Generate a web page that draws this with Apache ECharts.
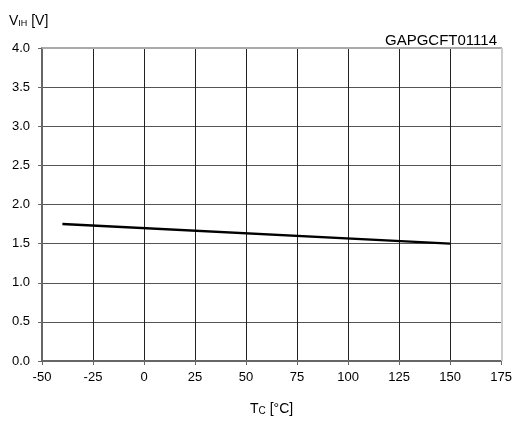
<!DOCTYPE html>
<html>
<head>
<meta charset="utf-8">
<script src="https://cdn.jsdelivr.net/npm/echarts@6/dist/echarts.min.js"></script>
<style>
  html, body { margin: 0; padding: 0; background: #fff; }
  #chart { width: 515px; height: 421px; }
</style>
</head>
<body>
<div id="chart"></div>
<script>
// Input high-level threshold voltage versus case temperature
const caseTemp = [-40, 150];
const vih = [1.75, 1.50];
const xTicks = [-50, -25, 0, 25, 50, 75, 100, 125, 150, 175];
const yTicks = [0, 0.5, 1, 1.5, 2, 2.5, 3, 3.5, 4];
const figureCode = 'GAPGCFT01114';

const font = 'Liberation Sans, Arial, sans-serif';
const chart = echarts.init(document.getElementById('chart'), null, { renderer: 'canvas' });

chart.setOption({
  animation: false,
  backgroundColor: '#fff',
  grid: { left: 42, right: 13, top: 48, bottom: 60, containLabel: false },
  xAxis: {
    type: 'value',
    min: xTicks[0],
    max: xTicks[xTicks.length - 1],
    interval: 25,
    axisLine: { show: true, onZero: false, lineStyle: { color: '#666', width: 2 } },
    axisTick: { show: true, length: 4, lineStyle: { color: '#666' } },
    axisLabel: { color: '#000', fontFamily: font, fontSize: 13, margin: 10 },
    splitLine: { show: true, lineStyle: { color: '#222', width: 1 } }
  },
  yAxis: {
    type: 'value',
    min: yTicks[0],
    max: yTicks[yTicks.length - 1],
    interval: 0.5,
    axisLine: { show: true, onZero: false, lineStyle: { color: '#666', width: 2 } },
    axisTick: { show: true, length: 4, lineStyle: { color: '#666' } },
    axisLabel: { color: '#000', fontFamily: font, fontSize: 13, margin: 12,
                 formatter: v => v.toFixed(1) },
    splitLine: { show: true, lineStyle: { color: '#555', width: 1 } }
  },
  graphic: [
    { type: 'line', shape: { x1: 42, y1: 48, x2: 502, y2: 48 }, silent: true, z: 10,
      style: { stroke: '#aaa', lineWidth: 2 } },
    { type: 'line', shape: { x1: 502, y1: 48, x2: 502, y2: 361 }, silent: true, z: 10,
      style: { stroke: '#ccc', lineWidth: 2 } },
    { type: 'text', left: 9, top: 14,
      style: { text: '{m|V}{s|IH}{m| [V]}', rich: {
        m: { fontFamily: font, fontSize: 14, fill: '#000' },
        s: { fontFamily: font, fontSize: 9, fill: '#000', padding: [5, 0, 0, 0] } } } },
    { type: 'text', right: 18, top: 33,
      style: { text: figureCode, fontFamily: font, fontSize: 15, fill: '#000' } },
    { type: 'text', left: 250, top: 402,
      style: { text: '{m|T}{s|C}{m| [°C]}', rich: {
        m: { fontFamily: font, fontSize: 14, fill: '#000' },
        s: { fontFamily: font, fontSize: 10, fill: '#000', padding: [4, 0, 0, 0] } } } }
  ],
  series: [{
    type: 'line',
    data: caseTemp.map((t, i) => [t, vih[i]]),
    showSymbol: false,
    lineStyle: { color: '#000', width: 2.5 },
    z: 5
  }]
});
</script>
</body>
</html>
